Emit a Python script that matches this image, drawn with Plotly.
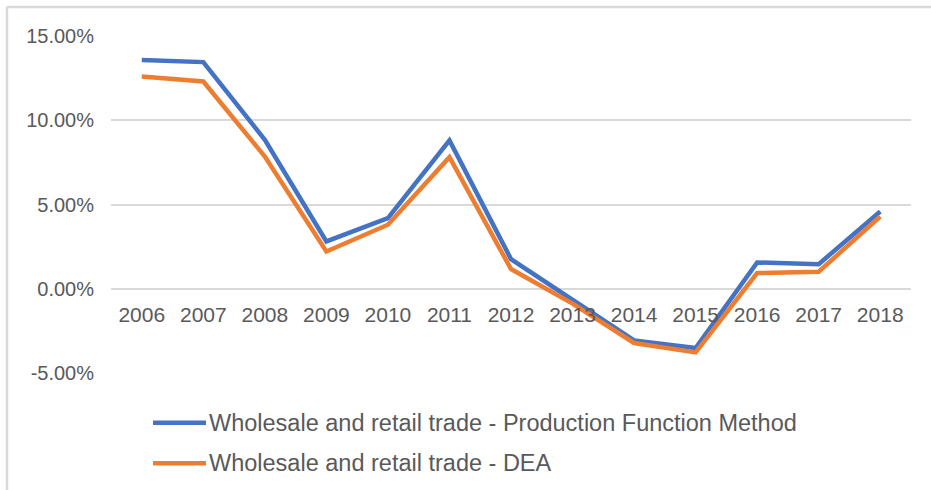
import plotly.graph_objects as go

# Growth rates (%) of the wholesale and retail trade sector, two estimation methods
years = ["2006", "2007", "2008", "2009", "2010", "2011", "2012",
         "2013", "2014", "2015", "2016", "2017", "2018"]
production_function = [13.58, 13.45, 8.84, 2.81, 4.19, 8.80, 1.76,
                       -0.62, -3.07, -3.52, 1.56, 1.46, 4.58]
dea = [12.59, 12.30, 7.85, 2.21, 3.80, 7.81, 1.17,
       -0.88, -3.22, -3.78, 0.93, 1.01, 4.29]

y_ticks = [-5, 0, 5, 10, 15]
y_tick_labels = ["-5.00%", "0.00%", "5.00%", "10.00%", "15.00%"]

series_names = ["Wholesale and retail trade - Production Function Method",
                "Wholesale and retail trade - DEA"]
series_colors = ["#4472C4", "#ED7D31"]

FONT = "Liberation Sans, Arial, sans-serif"
TEXT_COLOR = "#595959"
GRID_COLOR = "#D9D9D9"

# plot area in pixels (used to place the legend below it in paper units)
W, H = 931, 490
ML, MR, MT, MB = 111, 20, 36, 117
PW, PH = W - ML - MR, H - MT - MB


def px_x(p):
    return (p - ML) / PW


def px_y(p):
    return (H - MB - p) / PH


fig = go.Figure()
for name, values, color in zip(series_names, [production_function, dea], series_colors):
    fig.add_trace(go.Scatter(
        x=years, y=values, mode="lines", name=name,
        line=dict(color=color, width=4.5),
        hovertemplate="%{x}: %{y:.2f}%<extra></extra>",
    ))

# legend below the plot: a line swatch followed by the series name
shapes = [
    # chart frame along the top and left edges
    dict(type="line", xref="paper", yref="paper",
         x0=px_x(7), x1=px_x(940), y0=px_y(7), y1=px_y(7),
         line=dict(color=GRID_COLOR, width=2.5)),
    dict(type="line", xref="paper", yref="paper",
         x0=px_x(7), x1=px_x(7), y0=px_y(7), y1=px_y(500),
         line=dict(color=GRID_COLOR, width=2.5)),
]
annotations = []
legend_rows = [422.7, 463.3]
for name, color, row in zip(series_names, series_colors, legend_rows):
    shapes.append(dict(type="line", xref="paper", yref="paper",
                       x0=px_x(153), x1=px_x(206), y0=px_y(row), y1=px_y(row),
                       line=dict(color=color, width=4.5)))
    annotations.append(dict(xref="paper", yref="paper", x=px_x(207), y=px_y(row),
                            xanchor="left", yanchor="middle", showarrow=False,
                            text=name, font=dict(size=23.5, color=TEXT_COLOR, family=FONT)))

fig.update_layout(
    width=W, height=H,
    margin=dict(l=ML, r=MR, t=MT, b=MB, autoexpand=False),
    paper_bgcolor="white", plot_bgcolor="white",
    font=dict(family=FONT, color=TEXT_COLOR),
    showlegend=False,
    xaxis=dict(
        type="category", range=[-0.5, 12.5],
        anchor="free", position=0.25,
        showgrid=False, showline=False, zeroline=False, ticks="",
        tickfont=dict(size=21, color=TEXT_COLOR),
        ticklabelstandoff=11,
    ),
    yaxis=dict(
        range=[-5, 15], tickvals=y_ticks, ticktext=y_tick_labels,
        showgrid=True, gridcolor=GRID_COLOR, gridwidth=1.5,
        zeroline=False, showline=False, ticks="",
        tickfont=dict(size=20, color=TEXT_COLOR),
        ticklabelstandoff=16,
    ),
    shapes=shapes,
    annotations=annotations,
)

fig.write_html("out.html")
